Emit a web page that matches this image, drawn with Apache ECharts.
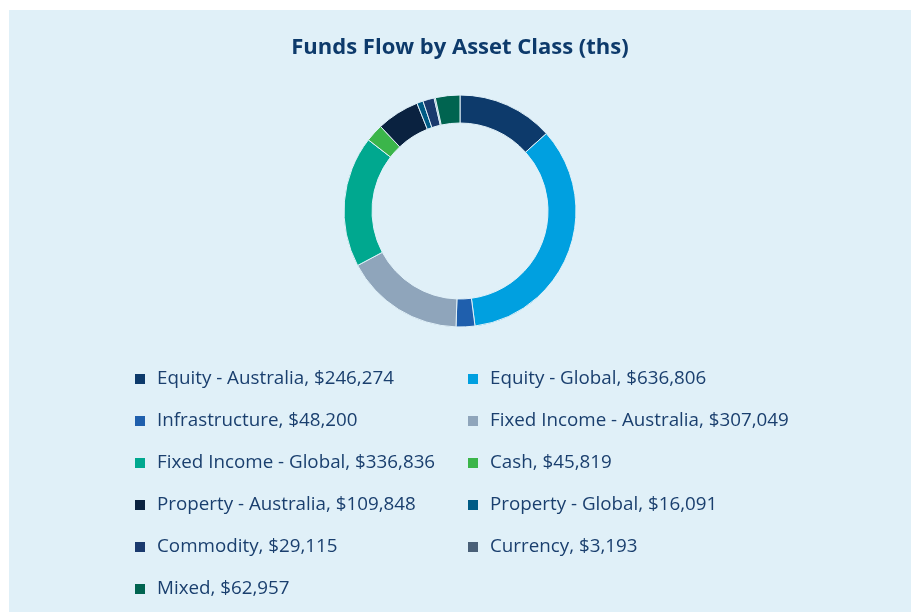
<!DOCTYPE html>
<html>
<head>
<meta charset="utf-8">
<script src="https://cdn.jsdelivr.net/npm/echarts@6/dist/echarts.min.js"></script>
<style>
  html, body { margin: 0; padding: 0; background: #ffffff; }
  #chart { position: absolute; left: 9px; top: 10px; width: 902px; height: 602px; background: #e0f0f8; }
</style>
</head>
<body>
<div id="chart"></div>
<script>
var categories = ['Equity - Australia', 'Equity - Global', 'Infrastructure', 'Fixed Income - Australia',
  'Fixed Income - Global', 'Cash', 'Property - Australia', 'Property - Global', 'Commodity', 'Currency', 'Mixed'];
var values = [246274, 636806, 48200, 307049, 336836, 45819, 109848, 16091, 29115, 3193, 62957];
var colors = ['#0d3a6b', '#00a0e0', '#1f5fad', '#8fa5bb', '#00a88f', '#3bb54a',
  '#0a2240', '#005b85', '#1a3a6e', '#4a6078', '#006450'];

var myChart = echarts.init(document.getElementById('chart'));

var pieData = categories.map(function (c, i) {
  return { name: c, value: values[i], itemStyle: { color: colors[i] } };
});
var leftNames = categories.filter(function (c, i) { return i % 2 === 0; });
var rightNames = categories.filter(function (c, i) { return i % 2 === 1; });

function fmt(name) {
  var i = categories.indexOf(name);
  return name + ', $' + echarts.format.addCommas(values[i]);
}

var legendBase = {
  orient: 'vertical',
  top: 354,
  icon: 'rect',
  itemWidth: 12,
  itemHeight: 12,
  itemGap: 22,
  formatter: fmt,
  selectedMode: false,
  textStyle: {
    fontFamily: 'Open Sans',
    fontSize: 18.8,
    lineHeight: 20,
    color: '#1a3f6e',
    padding: [0, 0, 0, 6]
  }
};

option = {
  title: {
    text: 'Funds Flow by Asset Class (ths)',
    left: 'center',
    top: 22,
    textStyle: {
      fontFamily: 'Open Sans',
      fontWeight: 'bold',
      fontSize: 22,
      color: '#0d3a6b'
    }
  },
  legend: [
    Object.assign({}, legendBase, { left: 119, data: leftNames }),
    Object.assign({}, legendBase, { left: 452, data: rightNames })
  ],
  series: [
    {
      type: 'pie',
      center: [451, 201],
      radius: [88, 116],
      startAngle: 90,
      label: { show: false },
      labelLine: { show: false },
      itemStyle: { borderColor: '#e0f0f8', borderWidth: 1 },
      emphasis: { disabled: true },
      data: pieData
    }
  ]
};
myChart.setOption(option);
</script>
</body>
</html>
